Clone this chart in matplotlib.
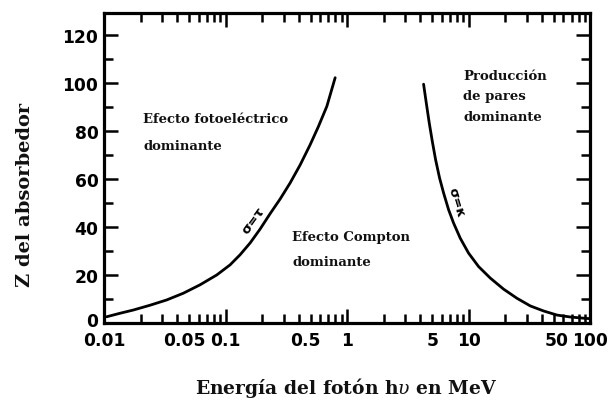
import matplotlib
matplotlib.use("Agg")
import matplotlib.pyplot as plt
from matplotlib.ticker import FixedLocator, FixedFormatter, NullFormatter
from matplotlib.transforms import ScaledTranslation

# =====================================
# Data
# =====================================
# photoelectric / Compton boundary (sigma = tau)
tau_energy = [0.01052, 0.01354, 0.01742, 0.02391, 0.03281, 0.04494, 0.06168,
              0.08464, 0.1089, 0.1316, 0.1591, 0.1923, 0.2324, 0.2809,
              0.3396, 0.4105, 0.4961, 0.5804, 0.6807, 0.7967]
tau_z = [2.6, 4.05, 5.4, 7.4, 9.6, 12.4, 15.9, 20.0, 24.2, 28.4, 33.3, 39.1,
         45.5, 51.6, 58.3, 65.8, 74.2, 81.8, 90.2, 102.1]

# Compton / pair production boundary (sigma = kappa)
kappa_energy = [4.25, 4.47, 4.73, 5.01, 5.33, 5.75, 6.21, 6.82, 7.50, 8.51,
                9.96, 12.04, 15.03, 19.33, 24.9, 32.1, 41.3, 53.2, 68.4,
                88.1, 100.0]
kappa_z = [99.4, 91.7, 83.3, 75.7, 68.1, 60.4, 54.1, 47.2, 41.6, 35.3, 29.1,
           23.5, 18.7, 14.1, 10.3, 7.1, 5.0, 3.3, 2.5, 2.0, 1.8]

x_major = [0.01, 0.1, 1, 10, 100]
x_major_labels = ["0.01", "0.1", "1", "10", "100"]
x_minor = [m * d for d in [0.01, 0.1, 1, 10] for m in range(2, 10)]
x_minor_text = {0.05: "0.05", 0.5: "0.5", 5: "5", 50: "50"}
x_minor_labels = [next((t for k, t in x_minor_text.items()
                        if abs(v - k) < 1e-9), "") for v in x_minor]
# small nudges (pixels) for crowded labels
x_label_nudge = {"0.05": -5, "0.5": -5, "50": 3}
y_label_nudge = {"0": 4}

y_major = [0, 20, 40, 60, 80, 100, 120]
y_minor = [10, 30, 50, 70, 90, 110]

SERIF = ["DejaVu Serif"]
SANS = ["DejaVu Sans"]
INK = "#111111"


def nudge(fig, lab, dx, dy):
    lab.set_transform(lab.get_transform() +
                      ScaledTranslation(dx / 100, dy / 100,
                                        fig.dpi_scale_trans))


# =====================================
# Plot
# =====================================
def main():
    plt.rcParams["mathtext.fontset"] = "dejavuserif"
    fig = plt.figure(figsize=(6.08, 4.02), dpi=100)
    ax = fig.add_axes([0.171, 0.194, 0.800, 0.771])

    ax.plot(tau_energy, tau_z, color="black", lw=2.0, solid_capstyle="round",
            solid_joinstyle="round")
    ax.plot(kappa_energy, kappa_z, color="black", lw=2.0,
            solid_capstyle="round", solid_joinstyle="round")

    ax.set_xscale("log")
    ax.set_xlim(0.01, 100)
    ax.set_ylim(0, 129)

    for side in ax.spines.values():
        side.set_linewidth(2.3)

    ax.xaxis.set_major_locator(FixedLocator(x_major))
    ax.xaxis.set_major_formatter(FixedFormatter(x_major_labels))
    ax.xaxis.set_minor_locator(FixedLocator(x_minor))
    ax.xaxis.set_minor_formatter(FixedFormatter(x_minor_labels))
    ax.yaxis.set_major_locator(FixedLocator(y_major))
    ax.yaxis.set_minor_locator(FixedLocator(y_minor))
    ax.yaxis.set_minor_formatter(NullFormatter())

    ax.tick_params(which="both", direction="in", top=True, right=True,
                   width=1.8, color="black")
    ax.tick_params(which="major", length=10)
    ax.tick_params(which="minor", length=6.5)
    ax.tick_params(axis="x", which="both", pad=5.5)
    ax.tick_params(axis="y", which="major", pad=4)

    fig.canvas.draw()
    for lab in ax.get_xticklabels(which="both") + ax.get_yticklabels():
        lab.set_fontfamily(SANS)
        lab.set_fontweight("bold")
        lab.set_fontsize(12.3)
    for lab in ax.get_xticklabels(which="both"):
        if lab.get_text() in x_label_nudge:
            nudge(fig, lab, x_label_nudge[lab.get_text()], 0)
    for lab in ax.get_yticklabels():
        if lab.get_text() in y_label_nudge:
            nudge(fig, lab, 0, y_label_nudge[lab.get_text()])

    # region labels
    txt = dict(family=SERIF, fontsize=9.5, fontweight="bold", color=INK,
               va="center", ha="left")
    ax.text(0.021, 85, "Efecto fotoeléctrico", **txt)
    ax.text(0.021, 74, "dominante", **txt)
    ax.text(0.352, 36, "Efecto Compton", **txt)
    ax.text(0.352, 25.5, "dominante", **txt)
    ax.text(9.0, 103, "Producción", **txt)
    ax.text(9.0, 94.5, "de pares", **txt)
    ax.text(9.0, 86, "dominante", **txt)

    # curve labels
    ax.text(0.168, 43, "σ=τ", family=SANS, fontsize=9.5, fontweight="bold",
            rotation=54, ha="center", va="center", rotation_mode="anchor")
    ax.text(7.95, 50.5, "σ=κ", family=SANS, fontsize=9.5, fontweight="bold",
            rotation=-73, ha="center", va="center", rotation_mode="anchor")

    fig.text(0.569, 0.035, "Energía del fotón h$\\mathit{\\upsilon}$ en MeV",
             family=SERIF, fontsize=13.5, fontweight="bold", color=INK,
             ha="center", va="center")
    fig.text(0.041, 0.515, "Z del absorbedor", family=SERIF, fontsize=14,
             fontweight="bold", color=INK, rotation=90,
             ha="center", va="center")

    fig.savefig("out.png", dpi=100)
    plt.close(fig)


if __name__ == "__main__":
    main()
